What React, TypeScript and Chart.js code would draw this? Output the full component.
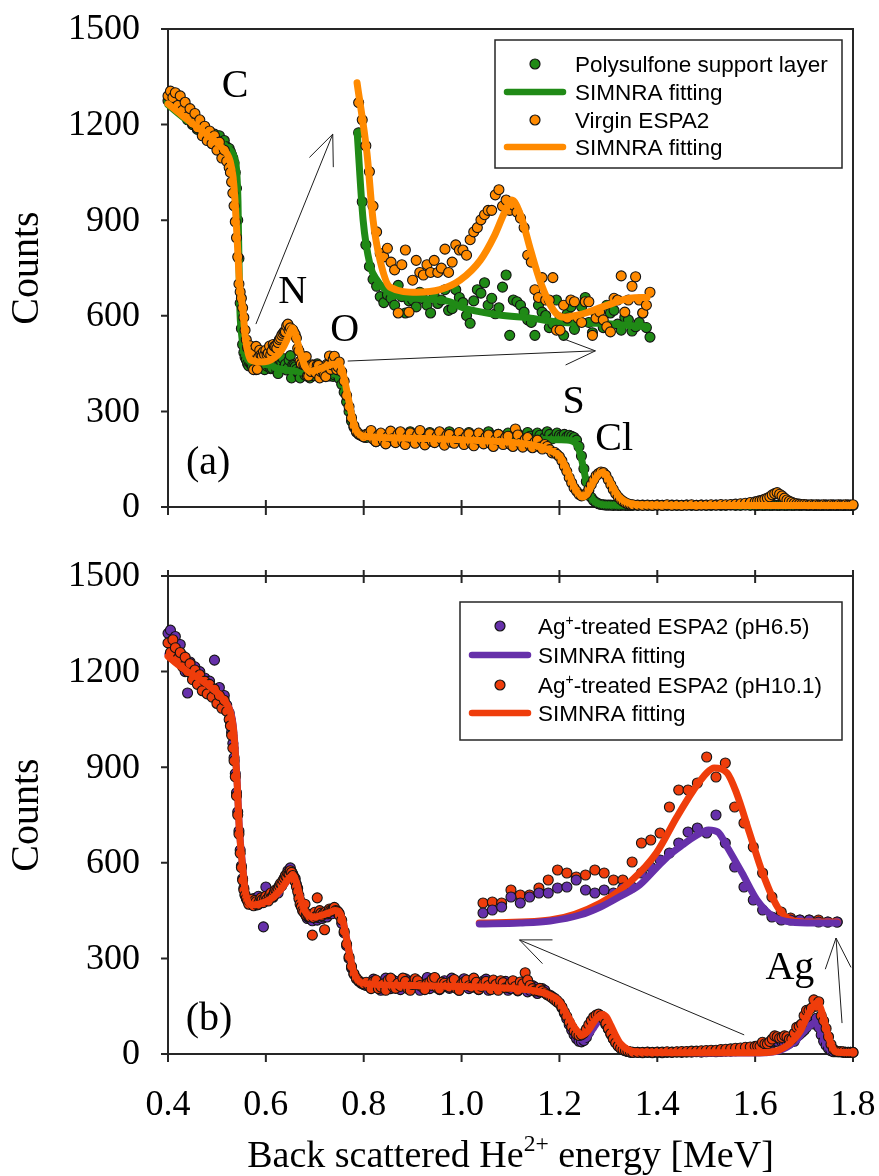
import React, { useEffect, useRef } from 'react';
import { Chart, registerables } from 'chart.js';

Chart.register(...registerables);

const SERIF = '"Liberation Serif", "Times New Roman", serif';
const SANS = '"Liberation Sans", Arial, Helvetica, sans-serif';
const INK = '#262626';

const GREEN = '#208a16';
const ORANGE = '#ff8a00';
const PURPLE = '#6630aa';
const RED = '#ef3d0b';

const energyTicks = [0.4, 0.6, 0.8, 1.0, 1.2, 1.4, 1.6, 1.8];
const countTicks = [0, 300, 600, 900, 1200, 1500];

// Channel energies of the RBS spectra (MeV)
const energyMeV = [
  0.4, 0.405, 0.41, 0.415, 0.42, 0.425, 0.43, 0.435, 0.44, 0.445, 0.45, 0.455, 0.46, 0.465, 0.47, 0.475, 0.48, 0.485, 0.49, 0.495, 0.5, 0.505, 0.51, 0.515, 0.52, 0.525,
  0.5275, 0.53, 0.5325, 0.535, 0.5375, 0.54, 0.5425, 0.545, 0.5475, 0.55, 0.5525, 0.555, 0.5575, 0.56, 0.5625,
  0.565, 0.5675, 0.57, 0.5725, 0.575, 0.5775, 0.58, 0.5825, 0.585, 0.5875, 0.59, 0.5925, 0.595, 0.5975, 0.6, 0.6025, 0.605, 0.6075, 0.61, 0.6125,
  0.615, 0.6175, 0.62, 0.6225, 0.625, 0.6275, 0.63, 0.6325, 0.635, 0.6375, 0.64, 0.6425, 0.645, 0.6475, 0.65, 0.6525, 0.655, 0.6575, 0.66, 0.6625,
  0.665, 0.6675, 0.67, 0.6725, 0.675, 0.6775, 0.68, 0.6825, 0.685, 0.6875, 0.69, 0.6925, 0.695, 0.6975, 0.7, 0.7025, 0.705, 0.7075, 0.71, 0.7125,
  0.715, 0.7175, 0.72, 0.7225, 0.725, 0.7275, 0.73, 0.7325, 0.735, 0.7375, 0.74, 0.7425, 0.745, 0.7475, 0.75,
  0.755, 0.76, 0.765, 0.77, 0.775, 0.78, 0.785, 0.79, 0.795, 0.8,
  0.805, 0.81, 0.815, 0.82, 0.825, 0.83, 0.835, 0.84, 0.845, 0.85, 0.855, 0.86, 0.865, 0.87, 0.875, 0.88, 0.885, 0.89, 0.895, 0.9,
  0.905, 0.91, 0.915, 0.92, 0.925, 0.93, 0.935, 0.94, 0.945, 0.95, 0.955, 0.96, 0.965, 0.97, 0.975, 0.98, 0.985, 0.99, 0.995, 1.0,
  1.005, 1.01, 1.015, 1.02, 1.025, 1.03, 1.035, 1.04, 1.045, 1.05, 1.055, 1.06, 1.065, 1.07, 1.075, 1.08, 1.085, 1.09, 1.095, 1.1,
  1.105, 1.11, 1.115, 1.12, 1.125, 1.13, 1.135, 1.14, 1.145, 1.15, 1.155, 1.16, 1.165, 1.17, 1.175, 1.18, 1.185, 1.19, 1.195, 1.2,
  1.205, 1.21, 1.215, 1.22, 1.225, 1.23, 1.235, 1.24, 1.245, 1.25, 1.255, 1.26, 1.265, 1.27, 1.275, 1.28, 1.285, 1.29, 1.295, 1.3, 1.305, 1.31, 1.315, 1.32, 1.325, 1.33, 1.335, 1.34, 1.345, 1.35,
  1.36, 1.37, 1.38, 1.39, 1.4, 1.41, 1.42, 1.43, 1.44, 1.45, 1.46, 1.47, 1.48, 1.49, 1.5, 1.51, 1.52, 1.53, 1.54, 1.55, 1.56, 1.57, 1.58, 1.59, 1.6,
  1.605, 1.61, 1.615, 1.62, 1.625, 1.63, 1.635, 1.64, 1.645, 1.65, 1.655, 1.66, 1.665, 1.67, 1.675, 1.68, 1.685, 1.69, 1.695, 1.7, 1.705, 1.71, 1.715, 1.72, 1.725, 1.73, 1.735, 1.74, 1.745, 1.75, 1.755, 1.76, 1.765, 1.77, 1.775, 1.78, 1.785, 1.79, 1.795, 1.8,
];

// (a) Polysulfone support layer
const supportCounts = [
  1275, 1290, 1270, 1285, 1250, 1265, 1235, 1250, 1215, 1230, 1200, 1215, 1185, 1200, 1175, 1190, 1165, 1175, 1160, 1170, 1150, 1165, 1140, 1150, 1130, 1125,
  1115, 1105, 1095, 1080, 1050, 1000, 900, 780, 640, 560, 510, 485, 470, 462, 450,
  443, 452, 448, 440, 463, 450, 431, 445, 446, 438, 455, 447, 440, 431, 451, 442, 446, 458, 434, 436,
  458, 449, 443, 428, 419, 445, 458, 454, 466, 440, 448, 430, 437, 461, 475, 405, 446, 444, 440, 432,
  423, 420, 405, 440, 432, 428, 414, 418, 446, 425, 405, 430, 438, 412, 423, 438, 449, 420, 408, 430,
  425, 414, 440, 431, 434, 418, 411, 426, 423, 410, 415, 420, 431, 414, 403,
  385, 360, 330, 300, 270, 250, 235, 228, 224, 220,
  218, 225, 232, 215, 205, 222, 228, 210, 200, 225, 235, 212, 206, 220, 230, 208, 200, 222, 236, 215,
  204, 225, 228, 210, 200, 218, 234, 212, 206, 226, 230, 208, 202, 220, 236, 212, 205, 225, 228, 215,
  200, 210, 234, 222, 205, 208, 230, 218, 202, 212, 236, 225, 206, 210, 228, 218, 204, 214, 232, 222,
  206, 208, 230, 218, 202, 212, 234, 222, 208, 215, 232, 225, 210, 218, 236, 228, 214, 220, 232, 225,
  222, 228, 220, 225, 222, 218, 210, 190, 160, 120, 80, 50, 30, 20, 14, 10, 8, 7, 6, 6, 6, 5, 6, 5, 5, 6, 5, 5, 5, 5,
  5, 6, 5, 5, 6, 5, 5, 6, 5, 5, 6, 5, 5, 6, 5, 5, 6, 5, 5, 6, 5, 5, 6, 5, 5,
  5, 6, 5, 5, 6, 5, 5, 6, 5, 5, 6, 5, 5, 6, 5, 5, 6, 5, 5, 6, 5, 5, 6, 5, 5, 6, 5, 5, 6, 5, 5, 6, 5, 5, 6, 5, 5, 6, 5, 5,
];

// (a) Virgin ESPA2
const virginCounts = [
  1290, 1305, 1285, 1300, 1260, 1290, 1245, 1270, 1225, 1250, 1205, 1235, 1190, 1215, 1165, 1195, 1150, 1180, 1140, 1165, 1120, 1145, 1095, 1120, 1085, 1065,
  1050, 1020, 985, 945, 895, 845, 785, 700, 675, 655, 625, 595, 555, 525, 500,
  496, 506, 490, 481, 431, 487, 504, 432, 469, 492, 478, 475, 487, 478, 492, 478, 483, 505, 478, 490,
  510, 504, 504, 498, 516, 525, 530, 539, 545, 550, 550, 568, 574, 555, 562, 550, 556, 548, 541, 530,
  498, 490, 458, 449, 472, 446, 446, 472, 411, 411, 440, 425, 446, 444, 425, 420, 444, 444, 405, 425,
  432, 423, 415, 409, 448, 446, 474, 432, 446, 462, 473, 446, 431, 440, 455,
  425, 395, 350, 315, 280, 255, 238, 230, 225, 220,
  228, 230, 240, 212, 205, 225, 232, 208, 198, 222, 238, 215, 202, 228, 236, 205, 196, 220, 232, 212,
  200, 226, 240, 208, 195, 218, 230, 205, 202, 222, 236, 210, 194, 225, 228, 203, 200, 215, 234, 210,
  196, 222, 230, 200, 192, 214, 232, 206, 198, 220, 226, 198, 190, 212, 228, 205, 196, 218, 222, 196,
  190, 245, 226, 200, 188, 212, 218, 193, 186, 204, 210, 188, 182, 196, 190, 180, 170, 172, 165, 158,
  145, 128, 112, 92, 76, 60, 50, 40, 35, 38, 42, 55, 70, 85, 98, 105, 110, 108, 100, 85, 70, 55, 42, 32, 24, 18, 13, 10, 8, 7,
  6, 5, 6, 5, 6, 5, 7, 5, 6, 5, 6, 7, 5, 6, 6, 7, 6, 8, 7, 8, 9, 10, 12, 14, 16,
  18, 20, 22, 25, 28, 32, 38, 42, 45, 40, 35, 28, 22, 18, 15, 12, 10, 9, 8, 8, 7, 6, 7, 6, 7, 6, 6, 7, 6, 6, 7, 6, 6, 7, 6, 6, 7, 6, 6, 7,
];

// (b) Ag+-treated ESPA2, pH 6.5
const ph65Counts = [
  1320, 1330, 1300, 1310, 1270, 1285, 1250, 1200, 1133, 1230, 1190, 1215, 1175, 1200, 1165, 1180, 1150, 1170, 1140, 1236, 1130, 1150, 1105, 1125, 1095, 1070,
  1045, 1010, 975, 930, 880, 820, 760, 700, 640, 590, 550, 520, 500, 490, 485,
  478, 482, 470, 476, 488, 470, 472, 485, 495, 478, 480, 490, 399, 482, 524, 495, 485, 490, 500, 502,
  492, 500, 510, 515, 505, 520, 530, 528, 540, 548, 555, 562, 575, 570, 584, 572, 565, 556, 550, 532,
  520, 498, 480, 468, 455, 448, 440, 432, 425, 428, 432, 425, 418, 430, 428, 426, 420, 428, 435, 432,
  425, 430, 438, 436, 430, 440, 445, 442, 440, 450, 455, 448, 450, 446, 440,
  410, 380, 340, 300, 270, 250, 236, 228, 222, 218,
  215, 222, 208, 235, 226, 212, 200, 228, 238, 218, 205, 232, 228, 210, 202, 225, 236, 215, 208, 230,
  228, 212, 200, 224, 226, 240, 205, 215, 238, 228, 202, 210, 230, 222, 206, 238, 228, 212, 200, 226,
  236, 218, 205, 232, 226, 208, 202, 220, 230, 235, 200, 212, 228, 225, 205, 215, 222, 228, 200, 205,
  226, 220, 198, 212, 222, 218, 195, 200, 215, 210, 190, 195, 205, 200, 188, 185, 180, 175, 168, 160,
  145, 128, 110, 92, 75, 60, 48, 40, 38, 42, 52, 68, 85, 100, 110, 115, 112, 105, 92, 78, 62, 48, 36, 26, 19, 14, 10, 8, 6, 5,
  5, 4, 5, 4, 5, 4, 5, 5, 6, 5, 6, 6, 7, 6, 7, 8, 7, 8, 9, 9, 10, 11, 12, 13, 14,
  17, 20, 30, 24, 30, 34, 34, 39, 40, 47, 37, 34, 37, 34, 39, 40, 54, 60, 67, 74, 84, 95, 99, 94, 112, 84, 60, 40, 27, 17, 10, 7, 7, 7, 7, 5, 5, 5, 5, 5,
];

// (b) Ag+-treated ESPA2, pH 10.1
const ph101Counts = [
  1290, 1260, 1300, 1275, 1240, 1260, 1215, 1245, 1200, 1225, 1175, 1205, 1160, 1190, 1140, 1170, 1130, 1160, 1120, 1145, 1100, 1125, 1085, 1110, 1075, 1050,
  1030, 1000, 960, 920, 870, 810, 750, 690, 630, 585, 545, 515, 498, 488, 480,
  470, 478, 485, 472, 465, 482, 478, 468, 470, 480, 490, 484, 475, 488, 495, 486, 480, 498, 505, 494,
  495, 508, 515, 512, 520, 528, 535, 532, 545, 552, 560, 556, 568, 566, 575, 570, 560, 552, 540, 525,
  510, 488, 470, 462, 450, 445, 470, 436, 440, 432, 430, 438, 373, 428, 445, 432, 490, 438, 450, 442,
  435, 440, 390, 446, 440, 444, 455, 452, 450, 455, 460, 450, 448, 445, 435,
  420, 385, 345, 305, 275, 252, 238, 230, 224, 220,
  225, 215, 205, 228, 232, 205, 210, 220, 200, 232, 238, 210, 206, 222, 212, 238, 228, 205, 200, 218,
  236, 230, 215, 210, 202, 222, 226, 235, 240, 208, 204, 225, 222, 215, 210, 228, 234, 205, 200, 220,
  226, 232, 214, 210, 238, 225, 203, 212, 222, 228, 215, 202, 232, 218, 200, 230, 224, 208, 210, 222,
  230, 212, 200, 226, 220, 255, 232, 215, 205, 198, 200, 206, 198, 192, 186, 182, 176, 170, 164, 158,
  148, 132, 118, 100, 85, 72, 62, 58, 60, 66, 78, 92, 105, 116, 122, 125, 120, 110, 96, 80, 64, 48, 35, 25, 18, 13, 10, 8, 6, 5,
  5, 5, 6, 5, 6, 6, 7, 6, 7, 8, 8, 9, 9, 10, 11, 12, 12, 14, 15, 16, 18, 19, 21, 22, 24,
  25, 24, 37, 32, 32, 39, 47, 57, 54, 50, 52, 57, 54, 47, 47, 65, 84, 87, 94, 120, 137, 137, 144, 170, 150, 164, 120, 104, 80, 54, 30, 15, 9, 7, 7, 7, 5, 5, 5, 5,
];

// SIMNRA simulations
const supportFitEnergy = [0.4, 0.44, 0.48, 0.5, 0.52, 0.53, 0.536, 0.54, 0.543, 0.5465, 0.5506, 0.5554, 0.5603, 0.5693, 0.588, 0.611, 0.62, 0.644, 0.667, 0.69, 0.713, 0.748, 0.754, 0.76, 0.768, 0.776, 0.784, 0.792, 0.8, 0.9, 1.0, 1.1, 1.2, 1.225, 1.235, 1.243, 1.25, 1.256, 1.262, 1.27, 1.28, 1.3, 1.4, 1.8];
const supportFitCounts = [1262, 1212, 1170, 1150, 1130, 1115, 1095, 1060, 960, 640, 539, 487, 469, 454, 448, 444, 437, 429, 425, 420, 419, 415, 405, 380, 330, 278, 242, 227, 222, 218, 215, 213, 211, 208, 196, 165, 115, 72, 40, 20, 10, 6, 5, 5];

const virginFitEnergy = [0.4, 0.42, 0.44, 0.46, 0.48, 0.5, 0.51, 0.52, 0.527, 0.533, 0.537, 0.541, 0.5464, 0.5533, 0.5575, 0.5624, 0.5693, 0.5881, 0.604, 0.618, 0.632, 0.642, 0.649, 0.654, 0.66, 0.667, 0.674, 0.683, 0.69, 0.701, 0.717, 0.736, 0.748, 0.754, 0.76, 0.768, 0.776, 0.784, 0.792, 0.8, 0.9, 1.0, 1.1, 1.15, 1.18, 1.2, 1.215, 1.23, 1.24, 1.248, 1.258, 1.27, 1.28, 1.288, 1.296, 1.305, 1.315, 1.325, 1.34, 1.36, 1.45, 1.6, 1.8];
const virginFitCounts = [1265, 1240, 1215, 1192, 1168, 1143, 1128, 1110, 1085, 1035, 960, 850, 698, 616, 539, 492, 461, 455, 458, 469, 492, 521, 548, 562, 545, 504, 466, 434, 426, 429, 438, 448, 449, 438, 405, 345, 285, 242, 227, 222, 216, 211, 203, 193, 178, 160, 118, 63, 40, 31, 45, 80, 102, 108, 98, 75, 47, 27, 13, 7, 5, 5, 5];

const ph65FitEnergy = [0.4, 0.42, 0.44, 0.46, 0.48, 0.5, 0.51, 0.52, 0.527, 0.533, 0.537, 0.541, 0.546, 0.553, 0.558, 0.563, 0.57, 0.585, 0.6, 0.615, 0.63, 0.642, 0.65, 0.656, 0.662, 0.67, 0.678, 0.688, 0.7, 0.715, 0.73, 0.742, 0.75, 0.757, 0.764, 0.772, 0.78, 0.788, 0.796, 0.81, 0.9, 1.0, 1.1, 1.15, 1.18, 1.2, 1.215, 1.23, 1.24, 1.248, 1.258, 1.27, 1.28, 1.288, 1.296, 1.305, 1.315, 1.325, 1.34, 1.36, 1.45, 1.598, 1.62, 1.636, 1.652, 1.663, 1.673, 1.684, 1.693, 1.7, 1.707, 1.714, 1.721, 1.726, 1.731, 1.739, 1.747, 1.756, 1.765, 1.778, 1.79, 1.8];
const ph65FitCounts = [1255, 1228, 1205, 1185, 1162, 1138, 1120, 1100, 1078, 1035, 965, 865, 705, 585, 512, 480, 468, 470, 478, 492, 515, 540, 558, 562, 542, 496, 455, 434, 430, 436, 444, 450, 445, 420, 370, 305, 255, 232, 224, 220, 215, 212, 206, 198, 185, 163, 122, 78, 52, 44, 56, 82, 104, 112, 105, 82, 52, 29, 12, 5, 3, 3, 4, 6, 12, 20, 30, 42, 59, 72, 82, 91, 97, 95, 80, 54, 27, 10, 5, 4, 4, 4];

const ph101FitEnergy = [0.4, 0.42, 0.44, 0.46, 0.48, 0.5, 0.51, 0.52, 0.527, 0.533, 0.537, 0.541, 0.546, 0.553, 0.558, 0.563, 0.57, 0.585, 0.6, 0.615, 0.63, 0.642, 0.65, 0.656, 0.662, 0.67, 0.678, 0.688, 0.7, 0.715, 0.73, 0.742, 0.75, 0.757, 0.764, 0.772, 0.78, 0.788, 0.796, 0.81, 0.9, 1.0, 1.1, 1.15, 1.18, 1.2, 1.215, 1.23, 1.24, 1.248, 1.258, 1.27, 1.28, 1.288, 1.296, 1.305, 1.315, 1.325, 1.34, 1.36, 1.45, 1.598, 1.636, 1.663, 1.68, 1.693, 1.704, 1.713, 1.72, 1.724, 1.731, 1.736, 1.743, 1.75, 1.758, 1.765, 1.775, 1.79, 1.8];
const ph101FitCounts = [1248, 1222, 1200, 1182, 1160, 1135, 1118, 1098, 1075, 1030, 960, 860, 700, 580, 510, 480, 468, 470, 478, 492, 515, 540, 556, 560, 540, 495, 455, 434, 430, 436, 444, 450, 445, 420, 370, 305, 255, 232, 224, 220, 215, 212, 206, 198, 185, 165, 125, 85, 66, 60, 72, 100, 118, 124, 116, 90, 58, 32, 14, 6, 4, 4, 7, 24, 47, 74, 110, 137, 154, 159, 154, 134, 94, 54, 20, 7, 5, 5, 5];

const legendNamesA = ['Polysulfone support layer', 'SIMNRA fitting', 'Virgin ESPA2', 'SIMNRA fitting'];

// Magnified views: energy window shown and the hidden axes that enlarge it
const zoomA = { lo: 0.546, hi: 0.75, xMin: 0.415, xMax: 0.8911, yMin: 205.9, yMax: 760.4 };
const zoomB = { lo: 1.5975, hi: 1.7905, xMin: 1.431, xMax: 1.7985, yMin: -127, yMax: 351 };

const peakLabelsA = [
  { text: 'C', e: 0.537, c: 1321 },
  { text: 'N', e: 0.655, c: 672 },
  { text: 'O', e: 0.761, c: 555 },
  { text: 'S', e: 1.229, c: 329 },
  { text: 'Cl', e: 1.312, c: 213 },
  { text: '(a)', e: 0.482, c: 135 },
];
const peakLabelsB = [
  { text: '(b)', e: 0.484, c: 107 },
  { text: 'Ag', e: 1.671, c: 267 },
];
const arrowsA = [
  { from: [0.5796, 574], to: [0.7367, 1170] },
  { from: [0.7673, 458], to: [1.2735, 490] },
];
const arrowsB = [
  { from: [1.5776, 60], to: [1.1184, 358] },
  { from: [1.7776, 97], to: [1.7653, 364] },
];

type Pt = { x: number; y: number };
type Part = { t: string; sup?: boolean };

const toPoints = (xs: number[], ys: number[]): Pt[] =>
  xs.map((x, i) => ({ x, y: ys[i] })).filter((p) => Number.isFinite(p.y));
const inWindow = (pts: Pt[], lo: number, hi: number) => pts.filter((p) => p.x >= lo && p.x <= hi);

function markers(label: string, data: Pt[], color: string, order: number, zoomed: boolean) {
  return {
    label,
    data,
    order,
    xAxisID: zoomed ? 'xi' : 'x',
    yAxisID: zoomed ? 'yi' : 'y',
    showLine: false,
    pointRadius: 5,
    pointBorderWidth: 1.1,
    pointBackgroundColor: color,
    pointBorderColor: '#141414',
    clip: false,
  };
}

function fitLine(label: string, data: Pt[], color: string, order: number, zoomed: boolean) {
  return {
    label,
    data,
    order,
    xAxisID: zoomed ? 'xi' : 'x',
    yAxisID: zoomed ? 'yi' : 'y',
    showLine: true,
    pointRadius: 0,
    borderColor: color,
    borderWidth: 7,
    borderCapStyle: 'round',
    borderJoinStyle: 'round',
    cubicInterpolationMode: 'monotone',
    fill: false,
    clip: false,
  };
}

function panelScales(z: typeof zoomA) {
  return {
    x: { type: 'linear', axis: 'x', position: 'bottom', display: false, min: 0.4, max: 1.8 },
    y: { type: 'linear', axis: 'y', position: 'left', display: false, min: 0, max: 1500 },
    xi: { type: 'linear', axis: 'x', position: 'bottom', display: false, min: z.xMin, max: z.xMax },
    yi: { type: 'linear', axis: 'y', position: 'left', display: false, min: z.yMin, max: z.yMax },
  };
}

function drawRich(ctx: CanvasRenderingContext2D, parts: Part[], x: number, y: number, size: number, family: string, align: 'left' | 'center') {
  const supSize = size * 0.62;
  const widths = parts.map((p) => {
    ctx.font = `${p.sup ? supSize : size}px ${family}`;
    return ctx.measureText(p.t).width;
  });
  const total = widths.reduce((a, b) => a + b, 0);
  let cx = align === 'center' ? x - total / 2 : x;
  ctx.textAlign = 'left';
  ctx.textBaseline = 'alphabetic';
  ctx.fillStyle = '#000';
  parts.forEach((p, i) => {
    ctx.font = `${p.sup ? supSize : size}px ${family}`;
    ctx.fillText(p.t, cx, p.sup ? y - size * 0.42 : y);
    cx += widths[i];
  });
}

function drawArrow(ctx: CanvasRenderingContext2D, x0: number, y0: number, x1: number, y1: number) {
  const back = Math.atan2(y0 - y1, x0 - x1);
  const len = 33;
  const half = (23 * Math.PI) / 180;
  ctx.beginPath();
  ctx.moveTo(x0, y0);
  ctx.lineTo(x1, y1);
  ctx.moveTo(x1 + len * Math.cos(back - half), y1 + len * Math.sin(back - half));
  ctx.lineTo(x1, y1);
  ctx.lineTo(x1 + len * Math.cos(back + half), y1 + len * Math.sin(back + half));
  ctx.stroke();
}

type LegendRow = { y: number; kind: 'dot' | 'line'; color: string; parts: Part[] };
type LegendSpec = { box: number[]; markX: number; lineX: number[]; textX: number; size: number; rows: LegendRow[] };

function drawLegend(ctx: CanvasRenderingContext2D, spec: LegendSpec) {
  const [bx, by, bw, bh] = spec.box;
  ctx.fillStyle = '#fff';
  ctx.fillRect(bx, by, bw, bh);
  ctx.strokeStyle = INK;
  ctx.lineWidth = 1.5;
  ctx.strokeRect(bx, by, bw, bh);
  spec.rows.forEach((row) => {
    if (row.kind === 'dot') {
      ctx.beginPath();
      ctx.arc(spec.markX, row.y, 5, 0, Math.PI * 2);
      ctx.fillStyle = row.color;
      ctx.fill();
      ctx.lineWidth = 1.2;
      ctx.strokeStyle = '#141414';
      ctx.stroke();
    } else {
      ctx.beginPath();
      ctx.moveTo(spec.lineX[0], row.y);
      ctx.lineTo(spec.lineX[1], row.y);
      ctx.lineWidth = 6.5;
      ctx.lineCap = 'round';
      ctx.strokeStyle = row.color;
      ctx.stroke();
    }
    drawRich(ctx, row.parts, spec.textX, row.y + spec.size * 0.36, spec.size, SANS, 'left');
  });
}

// Axis frame, tick marks and tick labels
function framePlugin(topTicks: boolean, bottomInward: boolean, xLabelOffset: number | null) {
  return {
    id: 'frame',
    beforeDatasetsDraw(chart: any) {
      const { ctx } = chart;
      const { left, right, top, bottom } = chart.chartArea;
      const xs = chart.scales.x;
      const ys = chart.scales.y;
      ctx.save();
      ctx.strokeStyle = INK;
      ctx.lineWidth = 2;
      ctx.strokeRect(left, top, right - left, bottom - top);
      ctx.beginPath();
      countTicks.forEach((v) => {
        const y = ys.getPixelForValue(v);
        ctx.moveTo(left - 7, y);
        ctx.lineTo(left, y);
      });
      energyTicks.forEach((v) => {
        const x = xs.getPixelForValue(v);
        ctx.moveTo(x, bottom + 8);
        ctx.lineTo(x, bottomInward ? bottom - 7 : bottom);
        if (topTicks) {
          ctx.moveTo(x, top - 6);
          ctx.lineTo(x, top + 7);
        }
      });
      ctx.stroke();

      ctx.fillStyle = '#000';
      ctx.font = `36px ${SERIF}`;
      ctx.textAlign = 'right';
      ctx.textBaseline = 'middle';
      countTicks.forEach((v) => ctx.fillText(String(v), left - 28, ys.getPixelForValue(v) + 1));
      if (xLabelOffset !== null) {
        ctx.textAlign = 'center';
        ctx.textBaseline = 'alphabetic';
        energyTicks.forEach((v) => ctx.fillText(v.toFixed(1), xs.getPixelForValue(v), bottom + xLabelOffset));
      }
      ctx.restore();
    },
  };
}

function decorPlugin(
  labels: { text: string; e: number; c: number }[],
  arrows: { from: number[]; to: number[] }[],
  legend: LegendSpec,
  xTitleY: number | null
) {
  return {
    id: 'decor',
    afterDatasetsDraw(chart: any) {
      const { ctx } = chart;
      const xs = chart.scales.x;
      const ys = chart.scales.y;
      const { top, bottom, left, right } = chart.chartArea;
      ctx.save();
      ctx.strokeStyle = '#1e1e1e';
      ctx.lineWidth = 1;
      ctx.lineCap = 'butt';
      arrows.forEach((a) =>
        drawArrow(
          ctx,
          xs.getPixelForValue(a.from[0]),
          ys.getPixelForValue(a.from[1]),
          xs.getPixelForValue(a.to[0]),
          ys.getPixelForValue(a.to[1])
        )
      );
      ctx.fillStyle = '#000';
      ctx.font = `40px ${SERIF}`;
      ctx.textAlign = 'center';
      ctx.textBaseline = 'middle';
      labels.forEach((l) => ctx.fillText(l.text, xs.getPixelForValue(l.e), ys.getPixelForValue(l.c)));

      drawLegend(ctx, legend);

      ctx.save();
      ctx.translate(27, (top + bottom) / 2);
      ctx.rotate(-Math.PI / 2);
      ctx.font = `40px ${SERIF}`;
      ctx.fillStyle = '#000';
      ctx.textAlign = 'center';
      ctx.textBaseline = 'middle';
      ctx.fillText('Counts', 0, 0);
      ctx.restore();

      if (xTitleY !== null) {
        drawRich(
          ctx,
          [{ t: 'Back scattered He' }, { t: '2+', sup: true }, { t: ' energy [MeV]' }],
          (left + right) / 2,
          xTitleY,
          38,
          SERIF,
          'center'
        );
      }
      ctx.restore();
    },
  };
}

const baseOptions = {
  responsive: false,
  animation: false,
  devicePixelRatio: 1,
  events: [],
  plugins: { legend: { display: false }, tooltip: { enabled: false } },
};

function buildTopChart(canvas: HTMLCanvasElement) {
  const support = toPoints(energyMeV, supportCounts);
  const virgin = toPoints(energyMeV, virginCounts);
  const supportFit = toPoints(supportFitEnergy, supportFitCounts);
  const virginFit = toPoints(virginFitEnergy, virginFitCounts);
  const legend: LegendSpec = {
    box: [495, 40, 347, 128],
    markX: 535,
    lineX: [507, 563],
    textX: 575,
    size: 22.5,
    rows: [
      { y: 64, kind: 'dot', color: GREEN, parts: [{ t: legendNamesA[0] }] },
      { y: 92, kind: 'line', color: GREEN, parts: [{ t: legendNamesA[1] }] },
      { y: 120, kind: 'dot', color: ORANGE, parts: [{ t: legendNamesA[2] }] },
      { y: 147, kind: 'line', color: ORANGE, parts: [{ t: legendNamesA[3] }] },
    ],
  };
  return new Chart(canvas, {
    type: 'scatter',
    data: {
      datasets: [
        fitLine(legendNamesA[3], virginFit, ORANGE, 1, false),
        markers(legendNamesA[2], virgin, ORANGE, 2, false),
        fitLine(legendNamesA[1], supportFit, GREEN, 3, false),
        markers(legendNamesA[0], support, GREEN, 4, false),
        fitLine('zoom fit virgin', inWindow(virginFit, zoomA.lo, zoomA.hi), ORANGE, 1, true),
        markers('zoom virgin', inWindow(virgin, zoomA.lo, zoomA.hi), ORANGE, 2, true),
        fitLine('zoom fit support', inWindow(supportFit, zoomA.lo, zoomA.hi), GREEN, 3, true),
        markers('zoom support', inWindow(support, zoomA.lo, zoomA.hi), GREEN, 4, true),
      ] as any,
    },
    options: {
      ...baseOptions,
      layout: { autoPadding: false, padding: { left: 168, right: 26, top: 29, bottom: 25 } },
      scales: panelScales(zoomA) as any,
    },
    plugins: [framePlugin(false, true, null), decorPlugin(peakLabelsA, arrowsA, legend, null)],
  } as any);
}

function buildBottomChart(canvas: HTMLCanvasElement) {
  const ph65 = toPoints(energyMeV, ph65Counts);
  const ph101 = toPoints(energyMeV, ph101Counts);
  const ph65Fit = toPoints(ph65FitEnergy, ph65FitCounts);
  const ph101Fit = toPoints(ph101FitEnergy, ph101FitCounts);
  const legend: LegendSpec = {
    box: [460, 70, 382, 138],
    markX: 500,
    lineX: [472, 528],
    textX: 538,
    size: 22.5,
    rows: [
      { y: 94, kind: 'dot', color: PURPLE, parts: [{ t: 'Ag' }, { t: '+', sup: true }, { t: '-treated ESPA2 (pH6.5)' }] },
      { y: 123, kind: 'line', color: PURPLE, parts: [{ t: 'SIMNRA fitting' }] },
      { y: 153, kind: 'dot', color: RED, parts: [{ t: 'Ag' }, { t: '+', sup: true }, { t: '-treated ESPA2 (pH10.1)' }] },
      { y: 181, kind: 'line', color: RED, parts: [{ t: 'SIMNRA fitting' }] },
    ],
  };
  return new Chart(canvas, {
    type: 'scatter',
    data: {
      datasets: [
        fitLine('SIMNRA fitting pH10.1', ph101Fit, RED, 1, false),
        markers('pH10.1', ph101, RED, 2, false),
        fitLine('SIMNRA fitting pH6.5', ph65Fit, PURPLE, 3, false),
        markers('pH6.5', ph65, PURPLE, 4, false),
        fitLine('zoom fit pH6.5', inWindow(ph65Fit, zoomB.lo, zoomB.hi), PURPLE, 1, true),
        fitLine('zoom fit pH10.1', inWindow(ph101Fit, zoomB.lo, zoomB.hi), RED, 2, true),
        markers('zoom pH6.5', inWindow(ph65, zoomB.lo, zoomB.hi), PURPLE, 3, true),
        markers('zoom pH10.1', inWindow(ph101, zoomB.lo, zoomB.hi), RED, 4, true),
      ] as any,
    },
    options: {
      ...baseOptions,
      layout: { autoPadding: false, padding: { left: 168, right: 26, top: 44, bottom: 122 } },
      scales: panelScales(zoomB) as any,
    },
    plugins: [framePlugin(true, false, 61), decorPlugin(peakLabelsB, arrowsB, legend, 635)],
  } as any);
}

export default function App() {
  const topRef = useRef<HTMLCanvasElement>(null);
  const bottomRef = useRef<HTMLCanvasElement>(null);

  useEffect(() => {
    const top = buildTopChart(topRef.current!);
    const bottom = buildBottomChart(bottomRef.current!);
    return () => {
      top.destroy();
      bottom.destroy();
    };
  }, []);

  return (
    <div style={{ position: 'fixed', left: 0, top: 0, width: 879, height: 1176, background: '#fff' }}>
      <canvas ref={topRef} width={879} height={532} style={{ position: 'absolute', left: 0, top: 0 }} />
      <canvas ref={bottomRef} width={879} height={644} style={{ position: 'absolute', left: 0, top: 532 }} />
    </div>
  );
}
